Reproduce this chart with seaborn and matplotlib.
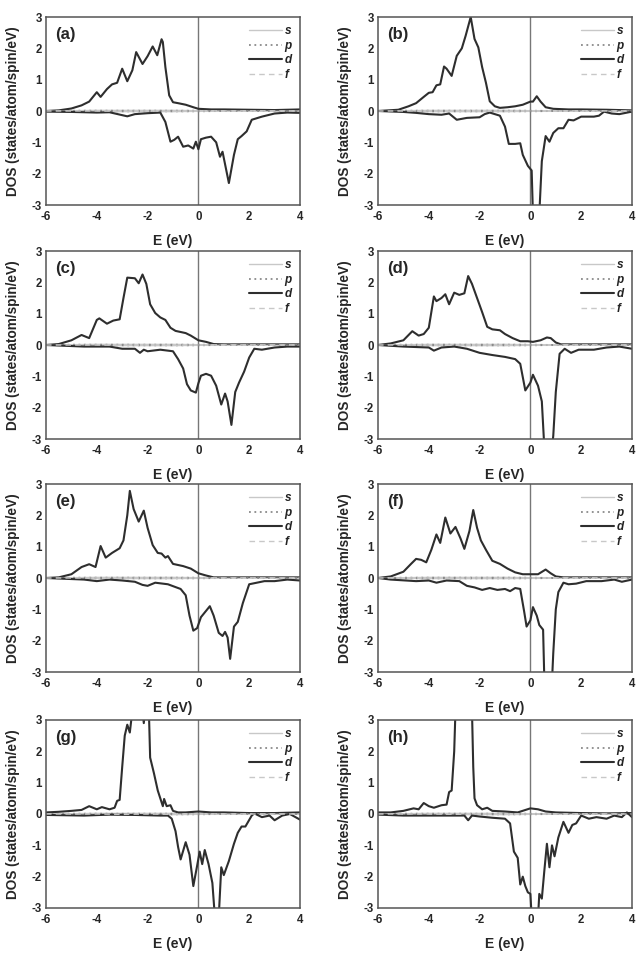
import numpy as np
import pandas as pd
import matplotlib
matplotlib.use("Agg")
import matplotlib.pyplot as plt
from matplotlib.ticker import MultipleLocator
import seaborn as sns

sns.set_style("white")
plt.rcParams['font.family'] = ['Liberation Sans', 'DejaVu Sans']
plt.rcParams['font.weight'] = 'bold'
plt.rcParams['axes.unicode_minus'] = False

# ---- d-projected DOS, spin up / spin down ----
# (a)
e_a_up = [-6, -5.5, -5.0, -4.6, -4.3, -4.1, -4.0, -3.85, -3.6, -3.4, -3.2, -3.0, -2.8, -2.6, -2.45,
          -2.2, -2.0, -1.8, -1.62, -1.45, -1.4, -1.3, -1.15, -1.0, -0.8, -0.5, -0.2, 0, 0.5, 1, 2, 3, 4]
d_a_up = [0, 0.02, 0.08, 0.18, 0.3, 0.5, 0.6, 0.45, 0.7, 0.85, 0.9, 1.35, 0.95, 1.3, 1.88,
          1.5, 1.75, 2.06, 1.78, 2.29, 2.2, 1.4, 0.5, 0.28, 0.25, 0.2, 0.12, 0.07, 0.05, 0.05, 0.04, 0.03, 0.05]
e_a_dn = [-6, -5, -4, -3.5, -2.8, -2.5, -2, -1.5, -1.3, -1.1, -0.95, -0.8, -0.6, -0.4, -0.2, -0.1, 0.0,
          0.1, 0.3, 0.5, 0.7, 0.85, 0.95, 1.2, 1.4, 1.55, 1.7, 1.9, 2.1, 2.5, 3.0, 3.5, 4.0]
d_a_dn = [-0.02, -0.03, -0.05, -0.04, -0.17, -0.1, -0.07, -0.05, -0.35, -0.98, -0.92, -0.82, -1.14, -1.1,
          -1.2, -0.98, -1.22, -0.9, -0.85, -0.82, -1.0, -1.46, -1.3, -2.3, -1.4, -0.9, -0.8, -0.65, -0.28,
          -0.18, -0.08, -0.05, -0.06]

# (b)
e_b_up = [-6, -5.2, -4.8, -4.5, -4.2, -4.0, -3.85, -3.7, -3.55, -3.4, -3.3, -3.1, -2.9, -2.7, -2.55,
          -2.35, -2.2, -2.05, -1.9, -1.75, -1.6, -1.4, -1.2, -0.9, -0.6, -0.3, 0.0, 0.1, 0.25, 0.4, 0.6,
          0.9, 1.5, 2, 3, 4]
d_b_up = [0, 0.04, 0.15, 0.25, 0.45, 0.58, 0.6, 0.82, 0.85, 1.42, 1.35, 1.12, 1.76, 2.0, 2.4,
          3.0, 2.3, 2.03, 1.4, 0.9, 0.31, 0.15, 0.1, 0.12, 0.15, 0.2, 0.3, 0.3, 0.47, 0.3, 0.12,
          0.07, 0.05, 0.05, 0.04, 0.02]
e_b_dn = [-6, -5, -4.5, -4, -3.5, -3.2, -2.9, -2.5, -2.0, -1.8, -1.6, -1.2, -1.0, -0.85, -0.6, -0.4,
          -0.3, -0.1, 0.05, 0.1, 0.35, 0.45, 0.6, 0.75, 0.9, 1.1, 1.3, 1.5, 1.7, 2.0, 2.5, 2.7, 2.9,
          3.2, 3.5, 4.0]
d_b_dn = [0, -0.03, -0.06, -0.1, -0.12, -0.08, -0.28, -0.22, -0.2, -0.1, -0.05, -0.15, -0.5, -1.05,
          -1.05, -1.03, -1.4, -1.75, -1.9, -3.3, -3.3, -1.6, -0.8, -0.98, -0.7, -0.55, -0.55, -0.28,
          -0.3, -0.18, -0.18, -0.15, -0.02, -0.08, -0.1, -0.02]

# (c)
e_c_up = [-6, -5.5, -5.0, -4.6, -4.3, -4.0, -3.9, -3.6, -3.35, -3.1, -2.95, -2.8, -2.5, -2.35, -2.2,
          -2.05, -1.9, -1.7, -1.5, -1.3, -1.1, -0.9, -0.5, -0.3, 0.0, 0.3, 0.6, 1.0, 4]
d_c_up = [0, 0.03, 0.15, 0.32, 0.22, 0.8, 0.85, 0.68, 0.78, 0.82, 1.5, 2.15, 2.13, 1.97, 2.25,
          1.95, 1.3, 1.02, 0.88, 0.8, 0.55, 0.45, 0.38, 0.3, 0.15, 0.1, 0.03, 0.02, 0.02]
e_c_dn = [-6, -4.5, -3.5, -3.0, -2.5, -2.3, -2.15, -2.0, -1.5, -1.0, -0.8, -0.6, -0.45, -0.3, -0.1,
          0.0, 0.1, 0.3, 0.5, 0.7, 0.9, 1.05, 1.15, 1.3, 1.45, 1.6, 1.8, 2.0, 2.2, 2.5, 3.0, 3.5, 4.0]
d_c_dn = [0, -0.05, -0.05, -0.12, -0.12, -0.25, -0.15, -0.2, -0.15, -0.2, -0.45, -0.75, -1.25, -1.45,
          -1.52, -1.22, -0.98, -0.92, -0.98, -1.3, -1.9, -1.55, -1.8, -2.55, -1.5, -1.2, -0.85, -0.4,
          -0.12, -0.15, -0.08, -0.05, -0.05]

# (d)
e_d_up = [-6, -5.5, -5.0, -4.65, -4.4, -4.2, -4.0, -3.8, -3.7, -3.5, -3.35, -3.2, -3.0, -2.8, -2.6,
          -2.45, -2.3, -2.1, -1.9, -1.7, -1.5, -1.2, -1.0, -0.7, -0.4, -0.1, 0.1, 0.4, 0.65, 0.8, 1.0,
          1.2, 4]
d_d_up = [0, 0.05, 0.15, 0.44, 0.3, 0.35, 0.55, 1.55, 1.4, 1.5, 1.62, 1.3, 1.67, 1.6, 1.65,
          2.2, 1.95, 1.5, 1.05, 0.58, 0.5, 0.47, 0.35, 0.22, 0.12, 0.12, 0.1, 0.15, 0.24, 0.22, 0.08,
          0.02, 0.02]
e_d_dn = [-6, -5, -4, -3.8, -3.5, -3, -2.5, -2.0, -1.5, -1.0, -0.6, -0.4, -0.2, 0.0, 0.1, 0.3, 0.45,
          0.55, 0.85, 0.9, 1.0, 1.15, 1.35, 1.6, 1.9, 2.5, 3, 3.5, 4]
d_d_dn = [0, -0.05, -0.08, -0.18, -0.08, -0.05, -0.12, -0.25, -0.32, -0.38, -0.45, -0.6, -1.45, -1.2,
          -0.95, -1.3, -1.8, -3.3, -3.3, -2.9, -1.5, -0.28, -0.12, -0.25, -0.15, -0.15, -0.08, -0.05,
          -0.12]

# (e)
e_e_up = [-6, -5.5, -5.0, -4.6, -4.3, -4.05, -3.85, -3.65, -3.4, -3.1, -2.95, -2.8, -2.7, -2.55,
          -2.35, -2.15, -2.0, -1.8, -1.6, -1.45, -1.3, -1.2, -1.0, -0.6, -0.3, 0.0, 0.3, 0.6, 4]
d_e_up = [0, 0.02, 0.12, 0.35, 0.44, 0.35, 1.02, 0.65, 0.8, 0.95, 1.2, 2.0, 2.78, 2.2,
          1.8, 2.15, 1.6, 1.05, 0.8, 0.78, 0.65, 0.7, 0.45, 0.38, 0.3, 0.15, 0.08, 0.02, 0.02]
e_e_dn = [-6, -4.5, -4.0, -3.5, -3.0, -2.5, -2.2, -2.0, -1.7, -1.2, -0.7, -0.5, -0.35, -0.2, -0.05,
          0.1, 0.3, 0.45, 0.6, 0.8, 0.95, 1.05, 1.15, 1.25, 1.4, 1.55, 1.75, 2.0, 2.3, 2.6, 3.0, 3.5, 4]
d_e_dn = [0, -0.05, -0.1, -0.05, -0.08, -0.12, -0.22, -0.25, -0.15, -0.2, -0.35, -0.55, -1.2, -1.68,
          -1.6, -1.25, -1.05, -0.9, -1.2, -1.75, -1.85, -1.72, -1.9, -2.58, -1.55, -1.4, -0.8, -0.2,
          -0.15, -0.1, -0.1, -0.05, -0.08]

# (f)
e_f_up = [-6, -5.5, -5.0, -4.7, -4.5, -4.3, -4.1, -3.9, -3.7, -3.55, -3.35, -3.15, -2.95, -2.75,
          -2.6, -2.4, -2.25, -2.1, -1.95, -1.75, -1.5, -1.2, -0.9, -0.6, -0.3, 0.0, 0.3, 0.6, 0.8,
          1.0, 1.3, 4]
d_f_up = [0, 0.05, 0.2, 0.45, 0.61, 0.58, 0.5, 0.9, 1.39, 1.12, 1.93, 1.42, 1.63, 1.26,
          0.93, 1.5, 2.17, 1.6, 1.2, 0.9, 0.55, 0.45, 0.3, 0.18, 0.12, 0.12, 0.12, 0.27, 0.15,
          0.05, 0.02, 0.02]
e_f_dn = [-6, -5.5, -4.5, -4.0, -3.7, -3.3, -2.8, -2.5, -2.2, -1.9, -1.6, -1.3, -1.0, -0.8, -0.6,
          -0.4, -0.25, -0.15, 0.0, 0.1, 0.25, 0.35, 0.5, 0.55, 0.85, 0.9, 1.0, 1.1, 1.3, 1.5, 1.8,
          2.2, 2.8, 3.3, 3.6, 4.0]
d_f_dn = [0, -0.05, -0.1, -0.08, -0.15, -0.08, -0.1, -0.25, -0.3, -0.38, -0.32, -0.38, -0.35, -0.42,
          -0.32, -0.35, -1.05, -1.55, -1.35, -0.93, -1.2, -1.5, -1.65, -3.3, -3.3, -2.4, -1.0, -0.45,
          -0.15, -0.2, -0.18, -0.1, -0.1, -0.05, -0.12, -0.05]

# (g)
e_g_up = [-6, -5.5, -5.0, -4.6, -4.3, -4.0, -3.8, -3.5, -3.3, -3.2, -3.1, -3.0, -2.9, -2.8, -2.7,
          -2.6, -2.2, -2.15, -2.1, -1.95, -1.9, -1.75, -1.6, -1.5, -1.4, -1.35, -1.25, -1.1, -1.0,
          -0.8, -0.5, 0.0, 0.5, 1.0, 2.0, 3.0, 4.0]
d_g_up = [0.05, 0.07, 0.1, 0.13, 0.25, 0.15, 0.22, 0.15, 0.2, 0.42, 0.45, 1.5, 2.5, 2.85, 2.6,
          3.3, 3.3, 2.9, 3.3, 3.3, 1.8, 1.3, 0.75, 0.5, 0.25, 0.48, 0.25, 0.28, 0.1,
          0.05, 0.05, 0.08, 0.05, 0.05, 0.03, 0.03, 0.05]
e_g_dn = [-6, -4.5, -3.5, -2.5, -1.5, -1.2, -1.05, -0.9, -0.8, -0.7, -0.5, -0.35, -0.2, -0.05, 0.05,
          0.15, 0.25, 0.4, 0.55, 0.65, 0.8, 0.9, 1.0, 1.2, 1.4, 1.55, 1.7, 1.85, 2.1, 2.2, 2.5, 2.8,
          3.0, 3.3, 3.6, 4.0]
d_g_dn = [-0.03, -0.05, -0.02, -0.03, -0.05, -0.05, -0.15, -0.55, -1.05, -1.45, -0.9, -1.3, -2.3,
          -1.65, -1.2, -1.6, -1.15, -1.6, -2.2, -3.3, -3.3, -1.7, -1.95, -1.5, -0.95, -0.6, -0.4,
          -0.4, -0.05, 0.02, -0.1, -0.05, -0.2, -0.05, 0.0, -0.18]

# (h)
e_h_up = [-6, -5.5, -5.0, -4.6, -4.4, -4.2, -4.0, -3.8, -3.5, -3.3, -3.2, -3.1, -3.0, -2.95, -2.3,
          -2.25, -2.2, -2.1, -1.9, -1.7, -1.5, -1.0, -0.5, 0.0, 0.3, 0.6, 1.0, 2.0, 3.0, 4.0]
d_h_up = [0.05, 0.05, 0.1, 0.18, 0.15, 0.35, 0.25, 0.2, 0.28, 0.3, 0.7, 0.75, 2.0, 3.3, 3.3,
          1.5, 0.5, 0.28, 0.15, 0.2, 0.1, 0.08, 0.05, 0.18, 0.15, 0.08, 0.05, 0.03, 0.02, 0.03]
e_h_dn = [-6, -5, -4, -3, -2.6, -2.45, -2.3, -2.0, -1.5, -1.0, -0.8, -0.65, -0.5, -0.4, -0.3, -0.2,
          -0.1, 0.0, 0.05, 0.3, 0.35, 0.45, 0.55, 0.65, 0.75, 0.85, 0.95, 1.1, 1.3, 1.5, 1.65, 1.8,
          2.0, 2.3, 2.6, 3.0, 3.3, 3.6, 3.8, 4.0]
d_h_dn = [-0.02, -0.05, -0.05, -0.05, -0.05, -0.2, -0.05, -0.08, -0.12, -0.15, -0.3, -1.2, -1.4,
          -2.25, -2.0, -2.3, -2.5, -2.55, -3.3, -3.3, -2.55, -2.7, -1.8, -0.95, -1.7, -1.0, -1.35,
          -0.75, -0.25, -0.6, -0.35, -0.3, -0.05, -0.15, -0.1, -0.15, -0.05, -0.1, 0.05, -0.1]

# s, p, f contributions stay close to zero in every panel
e_spf = [-6, -5, -4, -3, -2, -1, 0, 1, 2, 3, 4]
s_dos = [0.01, 0.01, 0.02, 0.02, 0.02, 0.02, 0.01, 0.01, 0.01, 0.01, 0.01]
p_dos = [0.0, 0.01, 0.01, 0.01, 0.01, 0.01, 0.01, 0.0, 0.0, 0.0, 0.0]
f_dos = [0.0, 0.0, 0.0, 0.01, 0.0, 0.01, 0.0, 0.0, 0.0, 0.0, 0.0]

panels = [
    ("(a)", e_a_up, d_a_up, e_a_dn, d_a_dn),
    ("(b)", e_b_up, d_b_up, e_b_dn, d_b_dn),
    ("(c)", e_c_up, d_c_up, e_c_dn, d_c_dn),
    ("(d)", e_d_up, d_d_up, e_d_dn, d_d_dn),
    ("(e)", e_e_up, d_e_up, e_e_dn, d_e_dn),
    ("(f)", e_f_up, d_f_up, e_f_dn, d_f_dn),
    ("(g)", e_g_up, d_g_up, e_g_dn, d_g_dn),
    ("(h)", e_h_up, d_h_up, e_h_dn, d_h_dn),
]

W, H = 637, 955
fig = plt.figure(figsize=(W / 100, H / 100), dpi=100)

col_left = [46, 378]
row_top = [17, 251, 484, 720]
ax_w, ax_h = 254, 188

spine_col = "#555555"
d_col = "#2e2e2e"

for i, (tag, eu, du, ed, dd) in enumerate(panels):
    r, c = divmod(i, 2)
    x0 = col_left[c] / W
    y0 = 1 - (row_top[r] + ax_h) / H
    ax = fig.add_axes([x0, y0, ax_w / W, ax_h / H])

    ax.axvline(0, color="#777777", lw=1.0, zorder=1)

    for sign in (1, -1):
        lab = (lambda s: s) if sign == 1 else (lambda s: "_" + s)
        sns.lineplot(x=e_spf, y=[sign * v for v in s_dos], ax=ax, color="#c8c8c8",
                     lw=1.0, label=lab("s"), sort=False)
        sns.lineplot(x=e_spf, y=[sign * v for v in p_dos], ax=ax, color="#8a8a8a",
                     lw=1.3, ls=(0, (1, 2)), label=lab("p"), sort=False)
        if sign == 1:
            sns.lineplot(x=eu, y=du, ax=ax, color=d_col, lw=1.5, label="d", sort=False)
        else:
            sns.lineplot(x=ed, y=dd, ax=ax, color=d_col, lw=1.5, label="_d", sort=False)
        sns.lineplot(x=e_spf, y=[sign * v for v in f_dos], ax=ax, color="#c8c8c8",
                     lw=1.0, ls=(0, (4, 3)), label=lab("f"), sort=False)

    ax.set_xlim(-6, 4)
    ax.set_ylim(-3, 3)
    ax.xaxis.set_major_locator(MultipleLocator(2))
    ax.xaxis.set_minor_locator(MultipleLocator(1))
    ax.yaxis.set_major_locator(MultipleLocator(1))
    ax.yaxis.set_minor_locator(MultipleLocator(0.5))
    ax.tick_params(which="major", direction="in", length=4, width=1, color=spine_col,
                   labelsize=8.3)
    ax.tick_params(axis="x", which="major", pad=4)
    ax.tick_params(axis="y", which="major", pad=3)
    ax.tick_params(which="minor", direction="in", length=2, width=0.8, color=spine_col)
    for lbl in ax.get_xticklabels() + ax.get_yticklabels():
        lbl.set_fontweight("bold")
    for sp in ax.spines.values():
        sp.set_color(spine_col)
        sp.set_linewidth(1.1)

    ax.set_xlabel("E (eV)", fontsize=10, fontweight="bold", labelpad=8)
    ax.set_ylabel("DOS (states/atom/spin/eV)", fontsize=9.8, fontweight="bold", labelpad=8)
    ax.text(-5.65, 2.45, tag, fontsize=12, fontweight="bold", ha="left", va="center")

    leg = ax.legend(loc="upper right", frameon=False, handlelength=2.8,
                    handletextpad=0.2, labelspacing=0.22, borderaxespad=0.3,
                    prop={"style": "italic", "weight": "bold", "size": 8.5})
    for t in leg.get_texts():
        t.set_color("#222222")

fig.savefig("out.png", dpi=100)
